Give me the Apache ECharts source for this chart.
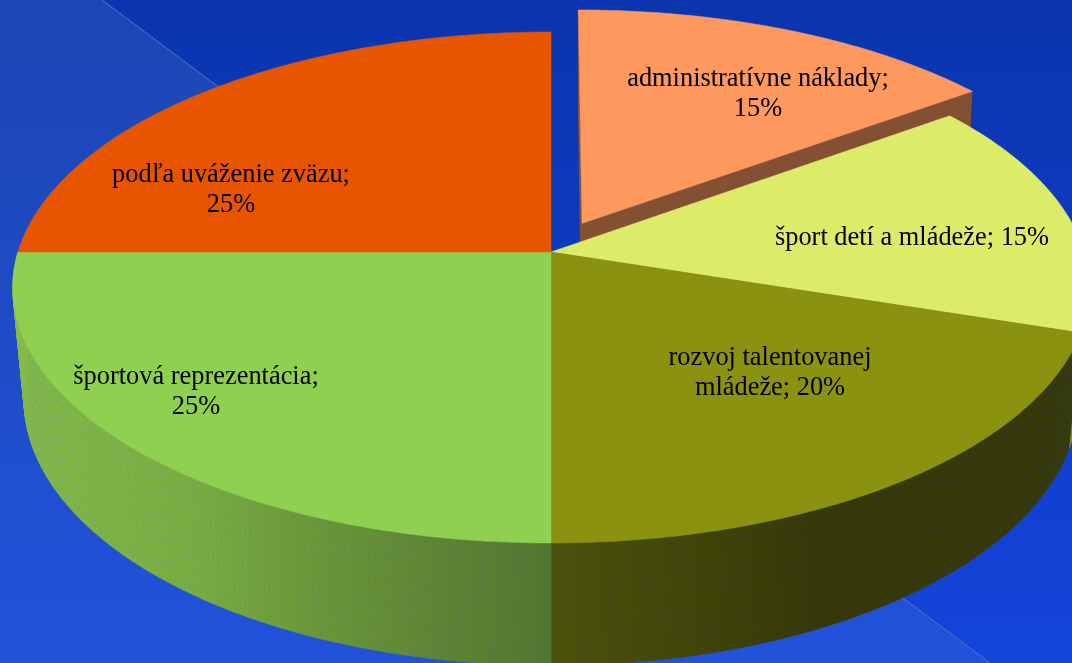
<!DOCTYPE html>
<html><head><meta charset="utf-8">
<style>html,body{margin:0;padding:0;background:#0a35ae}#c{width:1072px;height:663px}</style>
<script src="https://cdn.jsdelivr.net/npm/echarts@6/dist/echarts.min.js"></script>
</head><body><div id="c"></div>
<script>
const categories = ['administratívne náklady','šport detí a mládeže','rozvoj talentovanej mládeže','športová reprezentácia','podľa uváženie zväzu'];
const values = [15,15,20,25,25];
const labelLines = [
  'administratívne náklady;\n15%',
  'šport detí a mládeže; 15%',
  'rozvoj talentovanej\nmládeže; 20%',
  'športová reprezentácia;\n25%',
  'podľa uváženie zväzu;\n25%'
];
const topColors = ['#FD985F','#DCEB68','#8A9210','#90D050','#E85500'];
const wallColors = ['#845033','#848C3E','#363907','#6B983A','#8B3300'];
const explode = [0.13,0,0,0,0];
const labelAnchors = [[758,94],[912,238],[770,373],[196,392],[231,190]];

const TOP = {cx:551, cy:252, A:533, B:250.6, p:0.1389};
const LOW = {cx:551, cy:365, A:522.5, B:261.5, p:0.13};
const total = values.reduce((a,b)=>a+b,0);

function project(pl,u,v){const w=1-pl.p*v;return [pl.cx+pl.A*u/w, pl.cy+pl.B*v/w];}
function arc(pl,a0,a1,off,n){
  const pts=[];
  for(let i=0;i<=n;i++){
    const a=a0+(a1-a0)*i/n;
    pts.push(project(pl,Math.sin(a)+off[0],-Math.cos(a)+off[1]));
  }
  return pts;
}
function wallFill(i,c){
  if(i===3) return {type:'linear',x:24,y:0,x2:551,y2:0,global:true,colorStops:[
    {offset:0,color:'#84BA47'},{offset:0.33,color:'#78AC42'},{offset:0.52,color:'#6C9A3A'},
    {offset:0.71,color:'#628A36'},{offset:1,color:'#52762F'}]};
  if(i===2) return {type:'linear',x:551,y:0,x2:1072,y2:0,global:true,colorStops:[
    {offset:0,color:'#4C510A'},{offset:0.28,color:'#414408'},{offset:0.5,color:'#363907'},{offset:1,color:'#363907'}]};
  return c;
}
function renderItem(params,api){
  const i=params.dataIndex;
  let start=0;
  for(let k=0;k<i;k++) start+=api.value(0,k);
  const val=api.value(0);
  const a0=start/total*2*Math.PI, a1=(start+val)/total*2*Math.PI, mid=(a0+a1)/2;
  const d=explode[i], off=[d*Math.sin(mid),-d*Math.cos(mid)];
  const n=Math.max(24,Math.round(val*6));
  const topArc=arc(TOP,a0,a1,off,n), lowArc=arc(LOW,a0,a1,off,n);
  const apexT=project(TOP,off[0],off[1]), apexL=project(LOW,off[0],off[1]);
  const children=[];
  const base=d>0?0:1;
  const facesViewer=-Math.cos(a0)>0.01||-Math.cos(a1)>0.01;
  if(facesViewer){
    const fill=wallFill(i,wallColors[i]);
    // one quad per arc step, so the silhouette between the two rims is filled
    for(let s=0;s<n;s++){
      children.push({type:'polygon',z2:base,shape:{points:[topArc[s],topArc[s+1],lowArc[s+1],lowArc[s]]},
        style:{fill:fill,stroke:fill,lineWidth:0.5}});
    }
  }
  if(d>0){
    children.push({type:'polygon',z2:base,shape:{points:[apexT,topArc[0],lowArc[0],apexL]},style:{fill:wallColors[i]}});
    children.push({type:'polygon',z2:base,shape:{points:[apexT,topArc[n],lowArc[n],apexL]},style:{fill:wallColors[i]}});
  }
  children.push({type:'polygon',z2:base+(d>0?0.5:1),shape:{points:[apexT].concat(topArc)},
    style:{fill:topColors[i],stroke:topColors[i],lineWidth:0.5}});
  children.push({type:'text',z2:5,style:{text:labelLines[i],x:labelAnchors[i][0],y:labelAnchors[i][1],
    align:'center',verticalAlign:'middle',fill:'#000',fontFamily:'"Liberation Serif"',fontSize:26.4,lineHeight:30}});
  return {type:'group',children};
}
const chart=echarts.init(document.getElementById('c'),null,{renderer:'canvas'});
chart.setOption({
  animation:false,
  backgroundColor:{type:'linear',x:0,y:0,x2:0,y2:1,colorStops:[{offset:0,color:'#0A35AE'},{offset:1,color:'#1445DA'}]},
  graphic:[
    {type:'polygon',z:0,silent:true,shape:{points:[[0,0],[102,0],[990,663],[0,663]]},
     style:{fill:{type:'linear',x:0,y:0,x2:0,y2:1,colorStops:[{offset:0,color:'#1C46B4'},{offset:1,color:'#2152DA'}]}}},
    {type:'line',z:0,silent:true,shape:{x1:102,y1:0,x2:990,y2:663},style:{stroke:'#4F74CC',lineWidth:1}}
  ],
  series:[{type:'custom',coordinateSystem:'none',silent:true,z:2,renderItem,
    data:values.map((v,i)=>({name:categories[i],value:[v]}))}]
});
</script></body></html>
